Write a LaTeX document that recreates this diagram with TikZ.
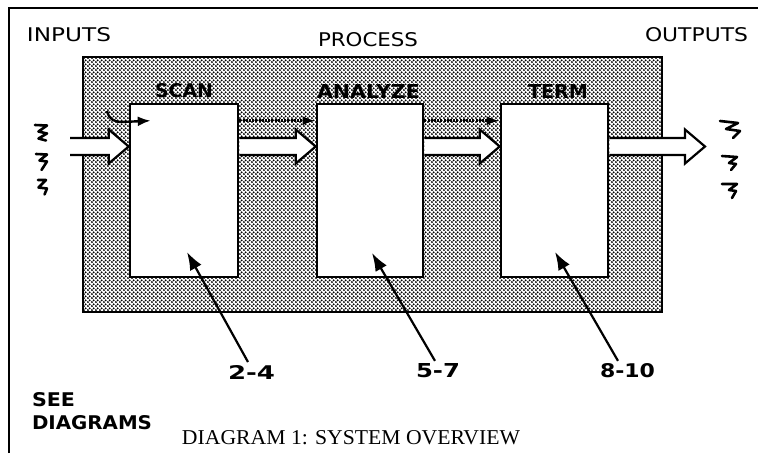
\documentclass[tikz,border=0pt]{standalone}
\usepackage{fontspec}
\usepackage{graphicx}
\usetikzlibrary{patterns.meta,arrows.meta,calc}
\newfontfamily\labsans{DejaVu Sans}
\newfontfamily\labsansbf{DejaVu Sans Bold}
\newfontfamily\capserif{Liberation Serif}
\newcommand\fitbox[3]{\resizebox{#1pt}{#2pt}{#3}}
\tikzdeclarepattern{
  name=halftone,
  type=uncolored,
  bounding box={(0pt,0pt) and (4.2pt,4.2pt)},
  tile size={(4.2pt,4.2pt)},
  code={
    \pgfpathcircle{\pgfqpoint{1.05pt}{1.05pt}}{1.2pt}
    \pgfpathcircle{\pgfqpoint{3.15pt}{3.15pt}}{1.2pt}
    \pgfusepath{fill}
  }
}
\tikzset{
  lbl/.style={inner sep=0pt, outer sep=0pt},
  stagebox/.style={draw, line width=2.6pt, fill=white, minimum width=#1, minimum height=173pt, inner sep=0pt},
  fatbody/.style={draw, line width=2.2pt, fill=white, line join=miter},
  thinarrow/.style={line width=2.4pt, -{Latex[length=13pt,width=10pt]}},
  dotarrow/.style={line width=2.6pt, dash pattern=on 2pt off 1.2pt, -{Latex[length=13pt,width=9pt]}},
  pointer/.style={line width=2.2pt, -{Latex[length=18pt,width=13pt]}},
  squig/.style={line width=2.6pt, line join=round, line cap=round},
}
\newcommand\fatarr[3]{%
  \filldraw[fatbody] ($(#1)+(0,-8.5)$) -- ($(#2)+(-20,-8.5)$) -- ($(#2)+(-20,-17)$) -- (#2)
     -- ($(#2)+(-20,17)$) -- ($(#2)+(-20,8.5)$) -- ($(#1)+(0,8.5)$)#3;}
\begin{document}
\begin{tikzpicture}[x=1pt,y=-1pt]
\useasboundingbox (0,0) rectangle (758,453);
% frame
\draw[line width=2.6pt] (9,453) -- (9,8) -- (758,8);
% process area
\fill[pattern=halftone, pattern color=black] (83,57) rectangle (662,312);
\draw[line width=2.6pt] (83,57) rectangle (662,312);
% stage boxes
\node[stagebox=108pt] (scan) at (184,190.5) {};
\node[stagebox=106pt] (analyze) at (370,190.5) {};
\node[stagebox=107pt] (term) at (554.5,190.5) {};
% headings
\node[lbl] (inputs) at (69,35) {\fitbox{84}{14}{\labsans INPUTS}};
\node[lbl] (process) at (368,40) {\fitbox{100}{14}{\labsans PROCESS}};
\node[lbl] (outputs) at (696.5,35) {\fitbox{103}{14}{\labsans OUTPUTS}};
\node[lbl] (scanlbl) at (184,91) {\fitbox{58}{14}{\labsansbf SCAN}};
\node[lbl] (analyzelbl) at (368.5,91) {\fitbox{103}{14}{\labsansbf ANALYZE}};
\node[lbl] (termlbl) at (558,91) {\fitbox{60}{14}{\labsansbf TERM}};
% fat arrows
\coordinate (inS) at (70,146.5);
\coordinate (inT) at (scan.west |- inS);
\coordinate (a1S) at (scan.east |- inS);
\coordinate (a1T) at (analyze.west |- inS);
\coordinate (a2S) at (analyze.east |- inS);
\coordinate (a2T) at (term.west |- inS);
\coordinate (outS) at (term.east |- inS);
\coordinate (outT) at (705,146.5);
\fatarr{inS}{inT}{}
\fatarr{a1S}{a1T}{}
\fatarr{a2S}{a2T}{}
\fatarr{outS}{outT}{}
% dotted control arrows
\coordinate (d1S) at ($(scan.north east)+(0,18)$);
\coordinate (d1T) at ($(analyze.north west)+(0,18)$);
\coordinate (d2S) at ($(analyze.north east)+(0,18)$);
\coordinate (d2T) at ($(term.north west)+(0,18)$);
\draw[dotarrow] (d1S) -- (d1T);
\draw[dotarrow] (d2S) -- (d2T);
% curved entry arrow
\coordinate (cS) at (107,111);
\coordinate (cT) at ($(scan.north west)+(22,18)$);
\draw[thinarrow] (cS) .. controls (109,119) and (114,122) .. (122,122) -- (cT);
% input squiggles
\draw[squig] (35,125)--(47,125.5)--(38.5,131.5)--(47,133.5)--(38.5,138.5)--(46,140.5);
\draw[squig] (36,154)--(47,154.5)--(39.5,160.5)--(47,161.5)--(41.5,170);
\draw[squig] (38,180)--(46,180)--(38.5,187.5)--(47,188.5)--(44.5,194.5);
% output squiggles
\draw[squig] (720,121)--(738,123)--(726,129)--(740,131)--(733,138);
\draw[squig] (722,156)--(737,157)--(729,163)--(736,164)--(731,170);
\draw[squig] (722,184)--(737,184)--(729,190)--(736,191)--(732,198);
% reference labels and pointers
\node[lbl] (n24) at (251.5,372) {\fitbox{47}{14}{\labsansbf 2-4}};
\node[lbl] (n57) at (438,371) {\fitbox{44}{14}{\labsansbf 5-7}};
\node[lbl] (n810) at (627.5,371) {\fitbox{55}{14}{\labsansbf 8-10}};
\coordinate (p24) at (187,252);
\coordinate (p57) at (372,253);
\coordinate (p810) at (555,252);
\draw[pointer] ([xshift=-3.5pt,yshift=3pt]n24.north) -- (p24);
\draw[pointer] ([xshift=-3pt,yshift=3pt]n57.north) -- (p57);
\draw[pointer] ([xshift=-9.5pt,yshift=3pt]n810.north) -- (p810);
% bottom texts
\node[lbl, anchor=west] (see) at (32,400) {\fitbox{43}{14}{\labsansbf SEE}};
\node[lbl, anchor=west] (diagrams) at (32,423) {\fitbox{120}{14}{\labsansbf DIAGRAMS}};
\node[lbl] (caption) at (351,437.5) {\fitbox{338}{14}{\capserif DIAGRAM 1: SYSTEM OVERVIEW}};
\end{tikzpicture}
\end{document}
